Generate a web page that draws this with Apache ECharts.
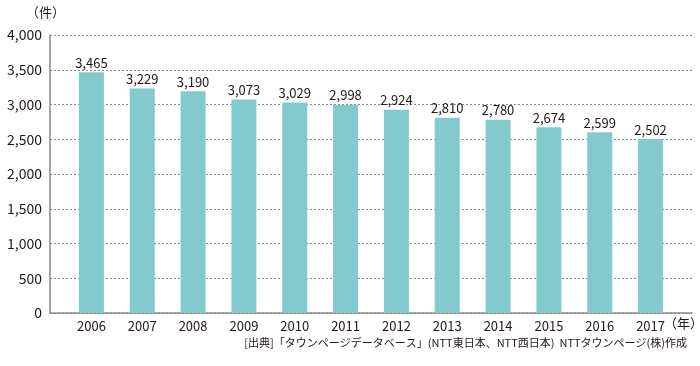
<!DOCTYPE html>
<html><head><meta charset="utf-8">
<script src="https://cdn.jsdelivr.net/npm/echarts@6/dist/echarts.min.js"></script>
<style>html,body{margin:0;padding:0;background:#fff}#c{width:700px;height:366px}</style>
</head><body><div id="c"></div>
<script>
const categories = ['2006','2007','2008','2009','2010','2011','2012','2013','2014','2015','2016','2017'];
const values = [3465,3229,3190,3073,3029,2998,2924,2810,2780,2674,2599,2502];
const yTicks = {min:0, max:4000, interval:500};
const unitY = '（件）';
const unitX = '（年）';
const source = '[出典]「タウンページデータベース」(NTT東日本、NTT西日本)  NTTタウンページ(株)作成';

const FONT = '"Noto Sans CJK JP", "Noto Sans", sans-serif';
const TXT = '#231815';
const chart = echarts.init(document.getElementById('c'));
chart.setOption({
  animation:false,
  textStyle:{fontFamily:FONT},
  grid:[
    {left:50,right:8,top:35,bottom:53},
    {left:66,right:24,top:35,bottom:53}
  ],
  xAxis:[
    {gridIndex:0,type:'value',min:0,max:1,axisLabel:{show:false},axisTick:{show:false},splitLine:{show:false},
     axisLine:{show:true,onZero:false,lineStyle:{color:'#8a8a8a',width:1.5}}},
    {gridIndex:1,type:'category',data:categories,axisLine:{show:false},axisTick:{show:false},
     axisLabel:{color:TXT,fontSize:13,margin:7,fontFamily:FONT}}
  ],
  yAxis:[
    {gridIndex:0,type:'value',min:yTicks.min,max:yTicks.max,interval:yTicks.interval,
     axisLine:{show:true,lineStyle:{color:'#8a8a8a',width:1.5}},axisTick:{show:false},
     axisLabel:{color:TXT,fontSize:14,margin:8,formatter:v=>v.toLocaleString('en-US'),fontFamily:FONT},
     splitLine:{show:true,lineStyle:{color:'#8a8a8a',type:[2,2],width:1}}},
    {gridIndex:1,type:'value',min:yTicks.min,max:yTicks.max,interval:yTicks.interval,show:false,splitLine:{show:false}}
  ],
  series:[{
    type:'bar',xAxisIndex:1,yAxisIndex:1,data:values,barWidth:25,
    itemStyle:{color:'#83CACE'},
    label:{show:true,position:'top',distance:3,color:TXT,fontSize:13,fontFamily:FONT,
      formatter:p=>p.value.toLocaleString('en-US')}
  }],
  graphic:[
    {type:'text',left:26,top:6,style:{text:unitY,fill:TXT,font:'13px '+FONT}},
    {type:'text',left:664,top:317,style:{text:unitX,fill:TXT,font:'13px '+FONT}},
    {type:'text',right:13,top:337,style:{text:source,fill:TXT,font:'11px '+FONT}}
  ]
});
</script></body></html>
